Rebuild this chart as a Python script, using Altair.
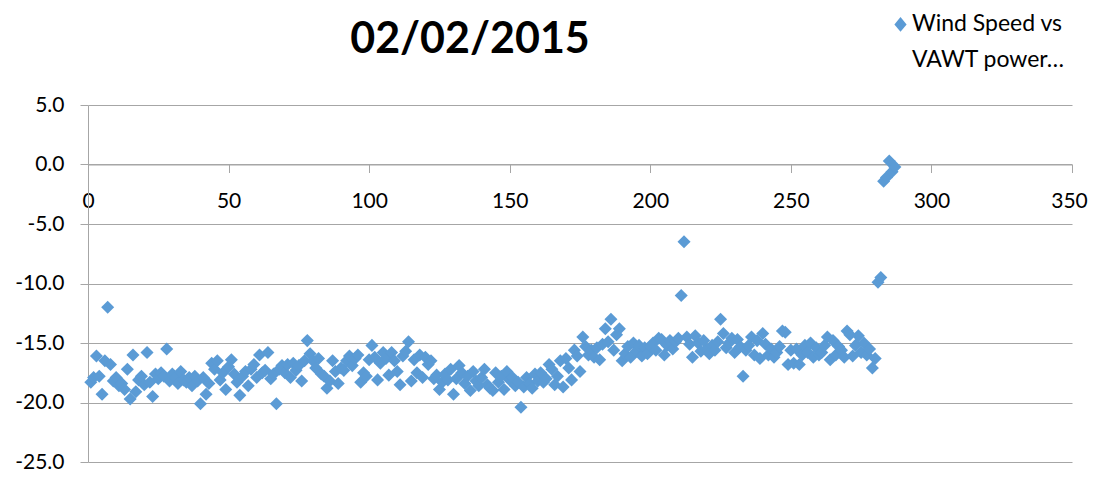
import altair as alt
import pandas as pd

# --- data ---
sample = list(range(1, 288))
power = [
    -18.3, -17.9, -16.1, -17.8, -19.3, -16.5, -12.0, -16.8, -18.2, -17.9,
    -18.6, -18.4, -18.9, -17.2, -19.7, -16.0, -19.1, -18.1, -17.8, -18.5,
    -15.8, -18.3, -19.5, -17.6, -18.0, -17.5, -17.8, -15.5, -18.2, -17.6,
    -17.9, -18.4, -17.4, -18.1, -18.3, -17.9, -18.6, -17.8, -18.2, -20.1,
    -17.9, -19.3, -18.4, -16.7, -17.2, -16.5, -18.1, -17.5, -18.9, -17.0,
    -16.4, -17.6, -18.3, -19.4, -17.8, -17.4, -18.6, -17.2, -16.8, -17.9,
    -16.0, -17.5, -17.3, -15.8, -18.0, -17.6, -20.1, -17.2, -16.9, -17.5,
    -16.8, -17.9, -16.7, -17.3, -16.9, -18.2, -16.5, -14.8, -15.9, -16.5,
    -17.1, -16.3, -17.6, -17.8, -18.8, -18.2, -16.5, -17.4, -18.4, -17.1,
    -17.3, -16.5, -16.1, -16.9, -16.3, -16.0, -18.3, -17.5, -17.8, -16.4,
    -15.2, -16.2, -18.1, -16.7, -15.8, -16.3, -17.7, -15.8, -16.5, -17.4,
    -18.5, -16.1, -15.7, -14.9, -18.2, -16.4, -17.5, -16.0, -17.9, -16.2,
    -16.8, -16.5, -18.0, -17.7, -18.9, -18.3, -17.6, -18.1, -17.2, -19.3,
    -18.0, -16.9, -17.5, -18.4, -17.8, -19.0, -17.4, -18.2, -18.6, -17.9,
    -17.2, -18.5, -18.8, -19.0, -17.5, -18.3, -17.8, -18.9, -17.4, -18.1,
    -17.9, -18.6, -18.3, -20.4, -18.7, -17.9, -18.4, -18.8, -17.6, -18.2,
    -17.5, -18.3, -18.0, -16.8, -17.2, -18.5, -17.8, -16.5, -18.7, -16.3,
    -17.1, -18.1, -15.6, -16.1, -17.4, -14.5, -15.3, -16.0, -15.6, -16.2,
    -15.4, -16.4, -15.1, -13.8, -14.9, -13.0, -15.6, -14.3, -13.8, -16.5,
    -15.9, -15.3, -16.2, -15.0, -15.7, -15.2, -16.1, -15.4, -15.9, -15.3,
    -15.0, -15.6, -14.6, -14.7, -16.0, -15.2, -14.8, -15.5, -14.9, -14.6,
    -11.0, -6.5, -14.5, -15.1, -16.2, -14.4, -15.0, -15.7, -14.8, -15.5,
    -15.9, -15.2, -15.6, -14.9, -13.0, -14.2, -15.4, -15.0, -14.6, -15.8,
    -14.7, -15.3, -17.8, -15.6, -15.2, -14.5, -16.0, -14.8, -16.3, -14.2,
    -15.1, -16.0, -15.5, -16.2, -15.8, -15.3, -14.0, -14.1, -16.8, -15.6,
    -16.7, -15.5, -16.8, -16.0, -15.2, -15.8, -15.0, -16.2, -15.4, -16.0,
    -15.8, -15.2, -14.5, -16.4, -14.8, -16.0, -15.3, -15.6, -16.2, -14.0,
    -14.3, -16.1, -15.2, -14.4, -15.8, -15.0, -16.0, -15.5, -17.1, -16.3,
    -9.9, -9.5, -1.4, -1.1, 0.3, -0.6, -0.2,
]
series_name = "Wind Speed vs VAWT power"
x_ticks = [0, 50, 100, 150, 200, 250, 300, 350]
y_ticks = [5, 0, -5, -10, -15, -20, -25]
chart_title = "02/02/2015"
legend_lines = ["Wind Speed vs", "VAWT power\u2026"]

df = pd.DataFrame({"sample": sample, "power": power, "series": [series_name] * len(sample)})

GRID = "#A6A6A6"
FONT = "Lato"
# diamond for the legend, raised so that it sits beside the first text line
LEGEND_DIAMOND = "M-1,-1.0L0,-2.2L1,-1.0L0,0.2Z"

chart = (
    alt.Chart(df)
    .mark_point(shape="diamond", filled=True, size=170, opacity=1)
    .encode(
        x=alt.X(
            "sample:Q",
            scale=alt.Scale(domain=[0, 350], nice=False, zero=False),
            axis=alt.Axis(
                values=x_ticks, title=None, grid=False, offset=-297.5,
                tickSize=8, tickColor=GRID, domainColor=GRID, labelFlush=False,
                labelFont=FONT, labelFontSize=21, labelColor="black", labelPadding=18,
                labelOffset={"condition": {"test": "datum.value == 350", "value": -3}, "value": 0},
            ),
        ),
        y=alt.Y(
            "power:Q",
            scale=alt.Scale(domain=[-25, 5], nice=False, zero=False),
            axis=alt.Axis(
                values=y_ticks, title=None, grid=True, gridColor=GRID,
                tickSize=8, tickColor=GRID, domainColor=GRID,
                labelExpr="replace(format(datum.value, '.1f'), '\u2212', '-')",
                labelFont=FONT, labelFontSize=21, labelColor="black", labelPadding=16,
            ),
        ),
        color=alt.Color(
            "series:N",
            scale=alt.Scale(range=["#5B9BD5"]),
            legend=alt.Legend(
                title=None, orient="none", legendX=801, legendY=-86,
                symbolType=LEGEND_DIAMOND, symbolSize=150, symbolStrokeWidth=0,
                labelFont=FONT, labelFontSize=23, labelColor="black", labelLimit=400,
                labelOffset=0, labelBaseline="alphabetic", padding=0,
                labelExpr="['" + legend_lines[0] + "', '" + legend_lines[1] + "']",
            ),
        ),
    )
    .properties(
        width=984,
        height=357,
        autosize=alt.AutoSizeParams(type="none"),
        padding={"left": 80, "top": 97, "right": 16, "bottom": 21},
        title=alt.TitleParams(
            text=chart_title, font=FONT, fontSize=43, fontWeight="bold", color="black",
            anchor="middle", dx=-110, baseline="alphabetic", offset=-77,
        ),
    )
    .configure(style={"guide-label": {"lineHeight": 36}})
    .configure_view(stroke=None)
)

chart.save("out.html", embed_options={"renderer": "svg", "actions": False})
